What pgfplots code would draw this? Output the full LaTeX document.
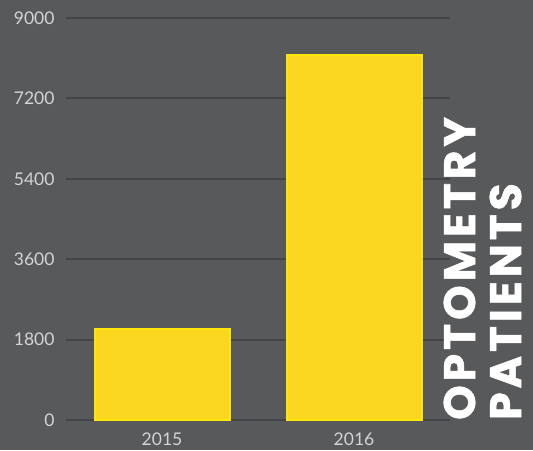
\documentclass[border=0pt]{standalone}
\usepackage{fontspec}
\usepackage{pgfplots}
\pgfplotsset{compat=1.18}
\newfontfamily\tickfont{Lato}
\newfontfamily\titlefont[LetterSpace=9, BoldFeatures={FakeBold=1.2}]{Poppins}
\definecolor{bg}{RGB}{88,89,91}
\definecolor{gridc}{RGB}{68,68,70}
\definecolor{barfill}{RGB}{250,214,30}
\definecolor{baredge}{RGB}{252,230,10}
\definecolor{ticktext}{RGB}{212,212,212}
\begin{document}
\begin{tikzpicture}
\fill[bg] (0,0) rectangle (533pt,450pt);
\useasboundingbox (0,0) rectangle (533pt,450pt);
\begin{axis}[at={(66pt,30pt)}, anchor=south west, scale only axis,
  width=384pt, height=402pt,
  xmin=-0.5, xmax=1.5, ymin=0, ymax=9000,
  ytick={0,1800,3600,5400,7200,9000},
  xtick={0,1}, xticklabels={2015,2016},
  axis lines*=left, axis line style={draw=none},
  major tick length=0pt,
  ymajorgrids, grid style={gridc, line width=2pt},
  tick label style={font=\tickfont\fontsize{17.5}{17.5}\selectfont, text=ticktext},
  /pgf/number format/assume math mode=true,
  scaled y ticks=false,
  yticklabel style={/pgf/number format/1000 sep={}, xshift=-8pt},
  xticklabel style={yshift=-9pt},
  ybar, bar width=135pt,
]
\addplot[fill=barfill, draw=baredge, line width=2pt] coordinates {(0,2040) (1,8170)};
\end{axis}
\node[rotate=90, anchor=base west, inner sep=0pt, text=white, font=\titlefont\bfseries\fontsize{44}{44}\selectfont] at (475pt,30pt) {OPTOMETRY};
\node[rotate=90, anchor=base west, inner sep=0pt, text=white, font=\titlefont\bfseries\fontsize{44}{44}\selectfont] at (521pt,30pt) {PATIENTS};
\end{tikzpicture}
\end{document}
